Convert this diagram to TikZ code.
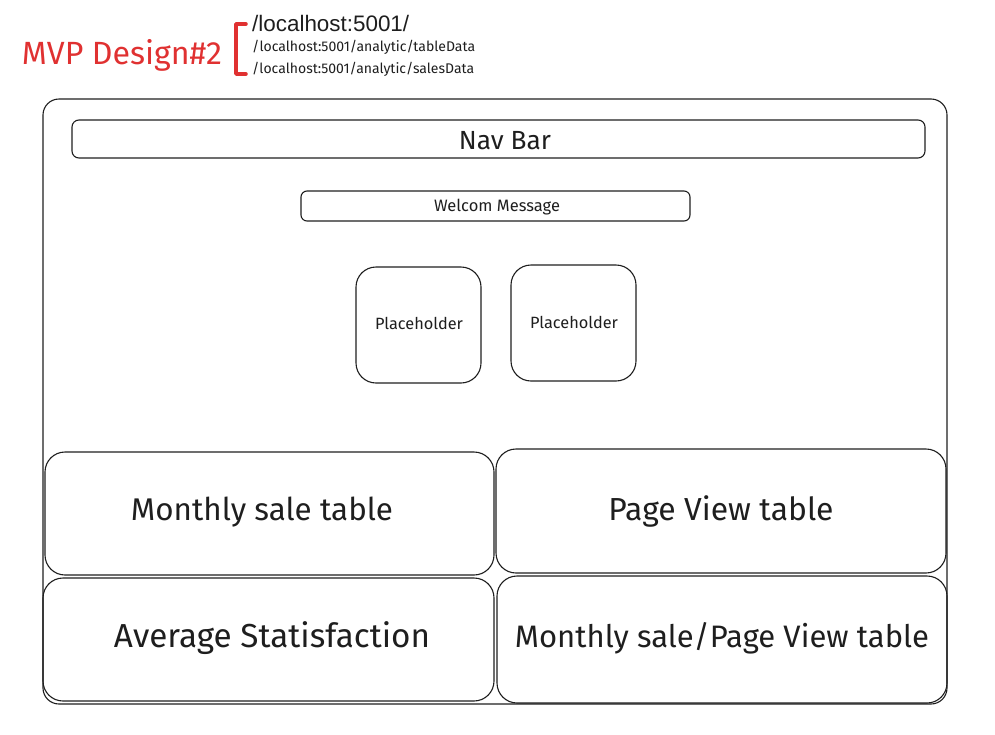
\documentclass[tikz,border=0pt]{standalone}
\usepackage{fontspec}
\setmainfont{Fira Sans}
\newfontfamily\urlfont{Liberation Sans}
\definecolor{ink}{HTML}{1E1E1E}
\definecolor{exred}{HTML}{E03131}
\newcommand{\fitw}[2]{\resizebox{#1pt}{!}{#2}}
\tikzset{
  box/.style={draw=ink, line width=1.1pt, rounded corners=#1, inner sep=0pt, text=ink},
  box/.default=8pt,
  lbl/.style={inner sep=0pt, text=ink},
}
\begin{document}
\begin{tikzpicture}[x=1pt,y=-1pt]
\useasboundingbox (0,0) rectangle (995,734);
% title
\node[lbl, text=exred] (title) at (122,55) {\fitw{200}{MVP Design\#2}};
\draw[exred, line width=3.5pt, line cap=round, line join=round] (246,24) -- (236,24) -- (236,74) -- (246,74);
\node[lbl, anchor=west] (u1) at (252,23) {\urlfont\fitw{157}{/localhost:5001/}};
\node[lbl, anchor=west] (u2) at (252,47) {\fitw{223}{/localhost:5001/analytic/tableData}};
\node[lbl, anchor=west] (u3) at (252,69) {\fitw{222}{/localhost:5001/analytic/salesData}};
% frame
\node[box=16pt, minimum width=904pt, minimum height=605pt] (frame) at (495,401.5) {};
\node[box=7pt, minimum width=853pt, minimum height=38pt] (nav) at (498.5,139) {};
\node[lbl] (navt) at (505,140.5) {\fitw{92}{Nav Bar}};
\node[box=6pt, minimum width=389pt, minimum height=30pt] (welcome) at (495.5,206) {};
\node[lbl] (welcomet) at (497,207.5) {\fitw{126}{Welcom Message}};
\node[box=20pt, minimum width=125pt, minimum height=116pt] (ph1) at (418.5,325) {};
\node[lbl] (ph1t) at (419,323.5) {\fitw{88}{Placeholder}};
\node[box=20pt, minimum width=125pt, minimum height=116pt] (ph2) at (573.5,323) {};
\node[lbl] (ph2t) at (574,322.5) {\fitw{88}{Placeholder}};
% tables
\node[box=20pt, minimum width=449pt, minimum height=123pt] (mst) at (269.5,513.5) {};
\node[lbl] (mstt) at (262,512) {\fitw{262}{Monthly sale table}};
\node[box=20pt, minimum width=450pt, minimum height=124pt] (pvt) at (721,511) {};
\node[lbl] (pvtt) at (721,511) {\fitw{225}{Page View table}};
\node[box=20pt, minimum width=451pt, minimum height=123pt] (avg) at (268.5,639.5) {};
\node[lbl] (avgt) at (272,638) {\fitw{316}{Average Statisfaction}};
\node[box=20pt, minimum width=450pt, minimum height=127pt] (mspv) at (722,639.5) {};
\node[lbl] (mspvt) at (722,638) {\fitw{414}{Monthly sale/Page View table}};
\end{tikzpicture}
\end{document}
